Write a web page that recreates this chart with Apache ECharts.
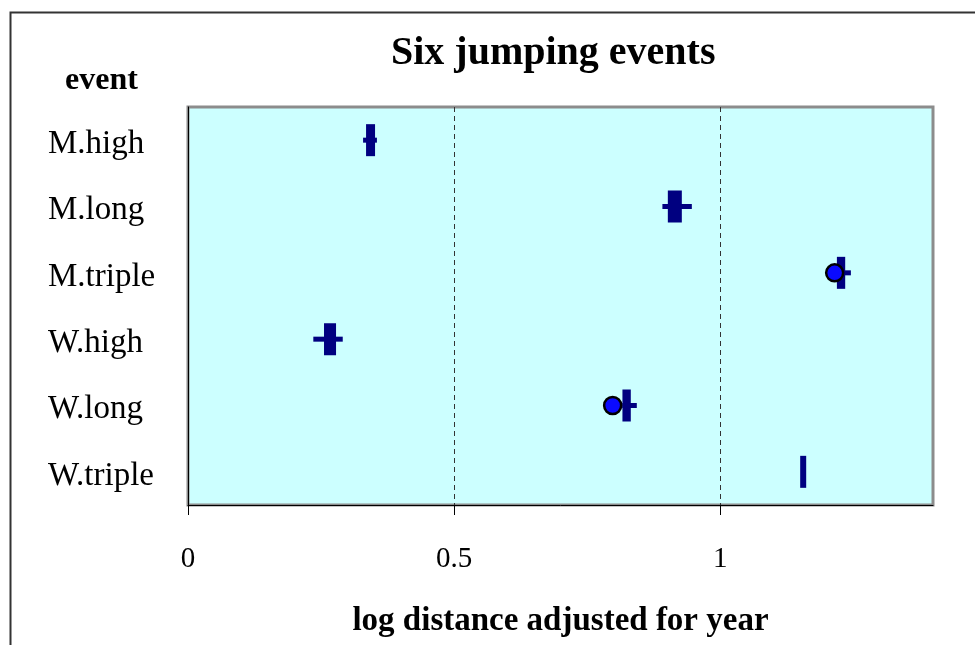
<!DOCTYPE html>
<html>
<head>
<meta charset="utf-8">
<script src="https://cdn.jsdelivr.net/npm/echarts@6/dist/echarts.min.js"></script>
<style>
  html, body { margin: 0; padding: 0; background: #ffffff; }
  #chart { width: 975px; height: 645px; }
</style>
</head>
<body>
<div id="chart"></div>
<script>
// Events, top to bottom
const events = ['M.high', 'M.long', 'M.triple', 'W.high', 'W.long', 'W.triple'];

// Box-and-whisker summary per event (log distance adjusted for year)
const whiskerLow  = [0.329, 0.8915, 1.218, 0.2355, 0.816, 1.1551];
const quartile1   = [0.3393, 0.9064, 1.2241, 0.2603, 0.8211, 1.1551];
const quartile3   = [0.3468, 0.9233, 1.2303, 0.2735, 0.8274, 1.157];
const whiskerHigh = [0.355, 0.9468, 1.2457, 0.2908, 0.8434, 1.157];

// Outlying points
const outlierEvents = ['M.triple', 'W.long'];
const outlierValues = [1.2152, 0.798];

// Axis ticks
const xTicks = [0, 0.5, 1];

const FONT = 'Liberation Serif';
const NAVY = '#000080';
const PLOT_BG = '#ccffff';

const boxData = events.map((e, i) => [i, whiskerLow[i], quartile1[i], quartile3[i], whiskerHigh[i]]);
const outlierData = outlierEvents.map((e, i) => [outlierValues[i], e]);

function renderBox(params, api) {
  const cat = api.value(0);
  const pLow = api.coord([api.value(1), cat]);
  const pQ1 = api.coord([api.value(2), cat]);
  const pQ3 = api.coord([api.value(3), cat]);
  const pHigh = api.coord([api.value(4), cat]);
  const y = pQ1[1];
  const boxH = 27;
  const children = [];
  if (pQ1[0] - pLow[0] > 0.5) {
    children.push({
      type: 'line',
      shape: { x1: pLow[0], y1: y, x2: pQ1[0], y2: y },
      style: { stroke: NAVY, lineWidth: 5 }
    });
  }
  if (pHigh[0] - pQ3[0] > 0.5) {
    children.push({
      type: 'line',
      shape: { x1: pQ3[0], y1: y, x2: pHigh[0], y2: y },
      style: { stroke: NAVY, lineWidth: 5 }
    });
  }
  children.push({
    type: 'rect',
    shape: { x: pQ1[0], y: y - boxH / 2, width: Math.max(pQ3[0] - pQ1[0], 1), height: boxH },
    style: { fill: NAVY, stroke: NAVY, lineWidth: 5 }
  });
  return { type: 'group', children };
}

const chart = echarts.init(document.getElementById('chart'), null, { renderer: 'canvas' });

chart.setOption({
  animation: false,
  backgroundColor: '#ffffff',
  title: {
    text: 'Six jumping events',
    left: 386,
    top: 29,
    textStyle: { fontFamily: FONT, fontSize: 40, fontWeight: 'bold', color: '#000' }
  },
  graphic: [
    {
      type: 'rect',
      left: 8, top: 10,
      shape: { width: 1000, height: 700 },
      style: { fill: 'none', stroke: '#333333', lineWidth: 2 },
      silent: true,
      z: -1
    },
    {
      type: 'text',
      left: 65, top: 65,
      style: { text: 'event', font: 'bold 32px "Liberation Serif"', fill: '#000' }
    }
  ],
  grid: {
    left: 188, right: 42, top: 107, bottom: 140,
    show: true,
    backgroundColor: PLOT_BG,
    borderColor: '#8c8c8c',
    borderWidth: 3
  },
  xAxis: {
    type: 'value',
    min: 0, max: 1.4, interval: 0.5,
    name: 'log distance adjusted for year',
    nameLocation: 'middle',
    nameGap: 100,
    nameTextStyle: { fontFamily: FONT, fontSize: 33, fontWeight: 'bold', color: '#000' },
    axisLine: { show: true, onZero: false, lineStyle: { color: '#000', width: 1 } },
    axisTick: { show: true, length: 10, customValues: xTicks, lineStyle: { color: '#000' } },
    axisLabel: {
      customValues: xTicks,
      margin: 40,
      fontFamily: FONT, fontSize: 29, color: '#000',
      formatter: v => String(v)
    },
    splitLine: { show: true, lineStyle: { color: '#333', type: [5, 4], width: 1 } }
  },
  yAxis: {
    type: 'category',
    data: events,
    inverse: true,
    axisLine: { show: true, lineStyle: { color: '#000', width: 1 } },
    axisTick: { show: false },
    splitLine: { show: false },
    axisLabel: {
      align: 'left',
      margin: 140,
      formatter: v => '{ev|' + v + '}',
      rich: {
        ev: { fontFamily: FONT, fontSize: 33, color: '#000', padding: [8, 0, 0, 0] }
      }
    }
  },
  series: [
    {
      type: 'custom',
      renderItem: renderBox,
      data: boxData,
      encode: { x: [1, 2, 3, 4], y: 0 },
      z: 3
    },
    {
      type: 'scatter',
      data: outlierData,
      symbol: 'circle',
      symbolSize: 17,
      itemStyle: { color: '#0a0aff', borderColor: '#000', borderWidth: 2.5, opacity: 1 },
      z: 5
    }
  ]
});
</script>
</body>
</html>
